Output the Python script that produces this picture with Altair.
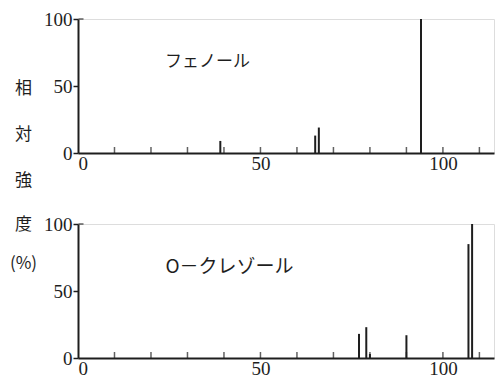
import altair as alt
import pandas as pd

# Phenol mass spectrum (m/z, relative intensity %)
phenol_mz = [39, 65, 66, 94]
phenol_int = [9, 13, 19, 100]
# o-Cresol mass spectrum
cresol_mz = [77, 79, 80, 90, 107, 108]
cresol_int = [18, 23, 3, 17, 85, 100]

tick_values = [10, 20, 30, 40, 50, 60, 70, 80, 90, 100, 110]
x_label_values = [0, 50, 100]
y_label_values = [0, 50, 100]
top_name = "フェノール"
bottom_name = "O－クレゾール"
top_title = ["相", "対", "強"]
bottom_title = ["度", "(%)"]

NUM_FONT = "Liberation Serif"
JP_FONT = "Noto Sans CJK JP"
INK = "#1e1e1e"

xs = alt.Scale(domain=[0, 114], nice=False, zero=False)
ys = alt.Scale(domain=[0, 100], nice=False)

ticks_df = pd.DataFrame({"t": tick_values})


def panel(mz, inten, name, name_x, name_size, title, title_y, line_h):
    df = pd.DataFrame({"mz": mz, "rel": inten, "zero": [0] * len(mz)})
    xaxis = alt.Axis(values=x_label_values, ticks=False, grid=False,
                     domainWidth=2, domainColor=INK, labelColor=INK,
                     labelFont=NUM_FONT, labelFontSize=19, labelPadding=1,
                     title=None)
    yaxis = alt.Axis(values=y_label_values, grid=False, tickSize=5,
                     tickWidth=1.5, tickColor=INK, domainWidth=2,
                     domainColor=INK, labelColor=INK, labelFont=NUM_FONT,
                     labelFontSize=19, labelPadding=1,
                     title=title, titleAngle=0, titleFont=JP_FONT,
                     titleFontSize=17, titleFontWeight="normal",
                     titleColor=INK, titleAlign="center",
                     titleBaseline="top", titleX=-55, titleY=title_y,
                     titleLineHeight=line_h)
    bars = alt.Chart(df).mark_rule(color=INK, strokeWidth=2).encode(
        x=alt.X("mz:Q", scale=xs, axis=xaxis),
        y=alt.Y("zero:Q", scale=ys, axis=yaxis),
        y2="rel:Q",
    )
    tks = alt.Chart(ticks_df).mark_tick(orient="vertical", color=INK,
                                        size=6, thickness=1.5,
                                        yOffset=-3).encode(
        x=alt.X("t:Q", scale=xs),
        y=alt.datum(0, scale=ys),
    )
    hook = alt.Chart(pd.DataFrame({"v": [100]})).mark_tick(
        orient="horizontal", color=INK, size=5, thickness=1.5, xOffset=3
    ).encode(
        x=alt.datum(0, scale=xs),
        y=alt.Y("v:Q", scale=ys),
    )
    label = alt.Chart(pd.DataFrame({"n": [name]})).mark_text(
        font=JP_FONT, fontSize=name_size, color=INK, fontWeight="normal"
    ).encode(
        x=alt.datum(name_x, scale=xs),
        y=alt.datum(68, scale=ys),
        text="n:N",
    )
    return alt.layer(bars, tks, hook, label).properties(width=416, height=134)


top = panel(phenol_mz, phenol_int, top_name, 35.5, 17, top_title, 61, 46)
bottom = panel(cresol_mz, cresol_int, bottom_name, 41.5, 19, bottom_title, -8, 39)

chart = alt.vconcat(top, bottom, spacing=71, bounds="flush").properties(
    padding={"left": 8, "top": 9, "right": 0, "bottom": 0}
).configure_view(stroke=None).configure(background="white")

chart.save("out.html", embed_options={"renderer": "svg", "actions": False})
